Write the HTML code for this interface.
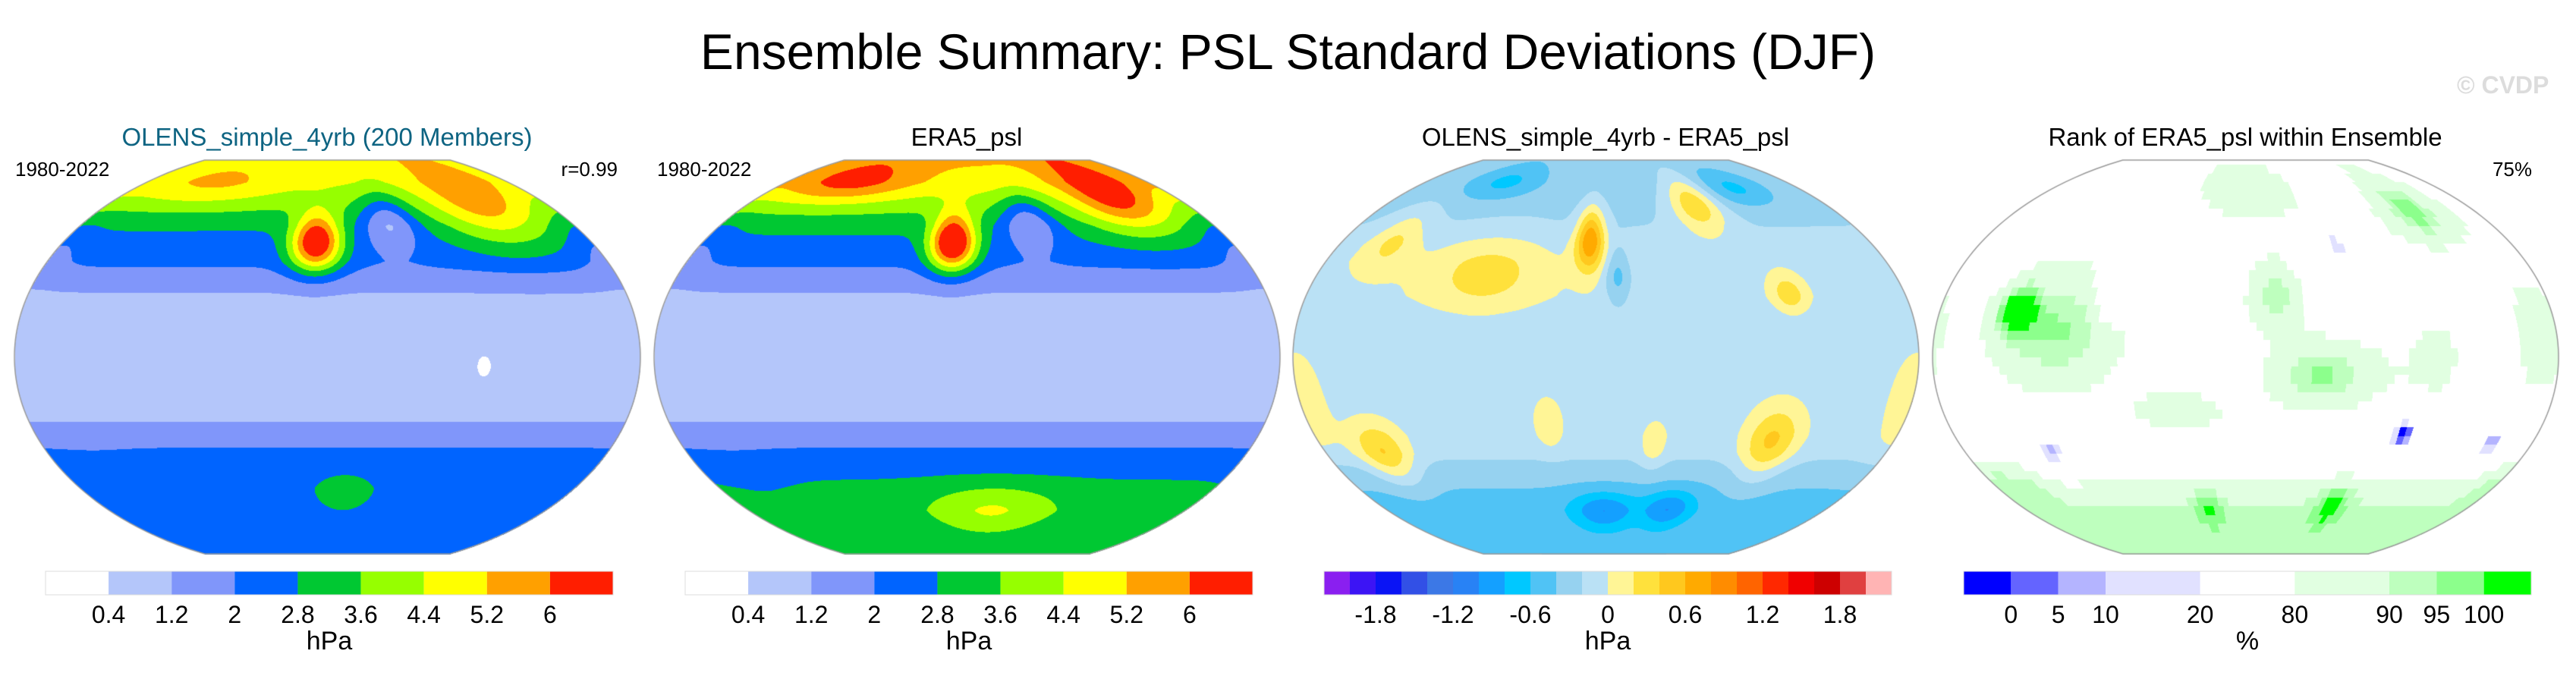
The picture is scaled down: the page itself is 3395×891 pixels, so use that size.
<!DOCTYPE html>
<html><head><meta charset="utf-8">
<style>
body{margin:0;background:#fff;width:3395px;height:891px;overflow:hidden;position:relative;font-family:"Liberation Sans",sans-serif}
.t{position:absolute;white-space:nowrap;color:#000}
canvas{position:absolute}
</style></head><body>
<div class="t" style="left:0;width:3395px;text-align:center;top:30px;font-size:66px">Ensemble Summary: PSL Standard Deviations (DJF)</div>
<div class="t" style="left:3238px;top:94px;font-size:32px;font-weight:bold;color:#dcdcdc">© CVDP</div>
<div id="root"></div>
<script>
// ---- data arrays ----
const sdLevels=["0.4","1.2","2","2.8","3.6","4.4","5.2","6"];
const sdBounds=[0.4,1.2,2,2.8,3.6,4.4,5.2,6];
const sdColors=["#ffffff","#b4c6fa","#8096fa","#0064ff","#00c832","#96ff00","#ffff00","#ffa000","#ff1e00"];
const diffBounds=[-2,-1.8,-1.6,-1.4,-1.2,-1,-0.8,-0.6,-0.4,-0.2,0,0.2,0.4,0.6,0.8,1,1.2,1.4,1.6,1.8,2];
const diffLabels=["","-1.8","","","-1.2","","","-0.6","","","0","","","0.6","","","1.2","","","1.8",""];
const diffColors=["#8a1ff0","#3c14f5","#0a14f5","#3250e6","#3c78e6","#2882f5","#14a0ff","#00c8ff","#50c3f5","#96d2f0","#bae1f5","#fff596","#ffe13c","#ffc81e","#ffaa00","#ff8c00","#ff6400","#ff2800","#f00000","#cd0000","#e04040","#ffb4b4"];
const rankBounds=[0,5,10,20,80,90,95,100];
const rankLabels=["0","5","10","20","80","90","95","100"];
const rankColors=["#0000ff","#6464ff","#b4b4ff","#e1e1ff","#ffffff","#e1ffe1","#beffbe","#8cff8c","#00ff00"];
const rankUnits=[1,1,1,2,2,2,1,1,1];
// zonal base profiles (lat, value)
const baseLat=[-90,-80,-70,-60,-52,-44,-36,-28,0,20,28,36,44,52,60,70,80,90];
const base1=[2.2,2.3,2.5,2.6,2.5,2.2,1.6,1.1,0.8,0.9,1.1,1.6,2.2,2.5,2.9,3.7,4.5,4.8];
const base2=[2.9,3.0,3.2,3.0,2.6,2.2,1.6,1.1,0.8,0.9,1.1,1.6,2.2,2.6,3.0,3.9,4.9,5.3];
const base3=[-0.4,-0.5,-0.5,-0.4,-0.3,-0.15,-0.1,-0.1,-0.1,-0.1,-0.05,-0.05,-0.05,-0.1,-0.2,-0.25,-0.3,-0.3];
const base4=[91,91,90,86,76,72,70,72,72,72,72,72,74,76,78,78,78,78];
// blobs: [lon, lat, sLon, sLat, amp]
const blobs1=[[202,52,12,9,4.6],[335,68,28,14,2.0],[100,78,45,7,0.9],[255,62,14,9,-1.8],[300,-5,5,6,-0.6],[222,-62,14,6,0.7],[60,-55,20,8,-0.3],[30,50,12,10,-0.6]];
const blobs2=[[200,52,11,9,4.9],[335,72,25,12,2.4],[95,80,40,7,1.5],[255,62,14,9,-1.8],[230,-70,35,8,1.3],[60,-55,20,8,-0.3],[30,50,12,10,-0.6]];
const blobs3=[[199,54,7,10,0.9],[282,70,14,9,0.6],[217,37,6,9,-0.4],[320,29,7,6,0.4],[135,38,25,12,0.35],[65,54,12,10,0.35],[67,-44,12,10,0.55],[313,-39,12,12,0.55],[208,-70,18,6,-0.5],[260,-69,14,6,-0.5],[110,80,25,6,-0.35],[330,77,20,6,-0.35],[175,-30,6,8,0.3],[240,-40,6,8,0.25],[30,-20,10,15,0.3]];
const blobs4=[[100,12,28,20,24],[75,22,8,8,28],[227,28,12,11,22],[255,-8,24,12,24],[340,67,14,10,20],[278,-68,10,7,14],[180,-70,9,6,12],[307,-35,7,7,-75],[4,-39,6,6,-70],[85,-43,8,7,-65],[271,51,6,7,-65],[132,34,6,9,-60],[150,65,30,10,-8],[170,-25,20,7,16],[40,-55,18,8,12],[20,10,12,22,14],[320,0,15,20,10],[200,75,30,8,10]];
const LON0=210, W=825, H=519, CY=470;
const panelCX=[431,1274,2116,2959];

function interp(xs,ys,x){if(x<=xs[0])return ys[0];for(let i=1;i<xs.length;i++){if(x<=xs[i]){const t=(x-xs[i-1])/(xs[i]-xs[i-1]);return ys[i-1]+t*(ys[i]-ys[i-1]);}}return ys[ys.length-1];}
function Xr(lat){const v=lat/90;return Math.sqrt(Math.max(0,1-0.846*v*v));}
function project(lon,lat,cx){let d=lon-LON0;while(d>180)d-=360;while(d<-180)d+=360;return [cx+W/2*Xr(lat)*d/180, CY-H/2*lat/90];}
function field(lon,lat,base,blobs){let v=interp(baseLat,base,lat);for(const b of blobs){let d=lon-b[0];while(d>180)d-=360;while(d<-180)d+=360;v+=b[4]*Math.exp(-(d*d)/(2*b[2]*b[2])-((lat-b[1])**2)/(2*b[3]*b[3]));}return v;}
function hex(c){return [parseInt(c.substr(1,2),16),parseInt(c.substr(3,2),16),parseInt(c.substr(5,2),16)];}
function colorFor(v,bounds,cols){let i=0;while(i<bounds.length&&v>=bounds[i])i++;return cols[i];}

const root=document.getElementById('root');
function addText(txt,name,left,top,size,align,color,width){
  const d=document.createElement('div');d.className='t';d.textContent=txt;
  
  
  d.style.fontSize=size+'px';d.style.top=top+'px';
  if(align==='center'){d.style.left=(left-(width||400)/2)+'px';d.style.width=(width||400)+'px';d.style.textAlign='center';}
  else if(align==='right'){d.style.left=(left-300)+'px';d.style.width='300px';d.style.textAlign='right';}
  else d.style.left=left+'px';
  if(color)d.style.color=color;root.appendChild(d);return d;}

function drawMap(p,base,blobs,bounds,cols,name,q){
  const cx=panelCX[p];const left=cx-W/2;
  const cv=document.createElement('canvas');cv.width=W+4;cv.height=H+4;
  cv.style.left=(left-2)+'px';cv.style.top=(CY-H/2-2)+'px';
  
  
  root.appendChild(cv);
  const ctx=cv.getContext('2d');const img=ctx.createImageData(W+4,H+4);
  const cache={};
  for(let py=0;py<H+4;py++){
    const v=(CY-(py+CY-H/2-2))/(H/2);if(Math.abs(v)>1)continue;
    const lat=v*90;const xr=Xr(lat);
    for(let px=0;px<W+4;px++){
      const u=(px+left-2-cx)/(W/2);const dl=u/xr*180;if(Math.abs(dl)>180)continue;
      let lon=LON0+dl,la=lat;
      if(q){lon=Math.floor(lon/q)*q+q/2;la=Math.floor(la/q)*q+q/2;}
      const val=field(lon,la,base,blobs);
      const c=colorFor(val,bounds,cols);const rgb=cache[c]||(cache[c]=hex(c));
      const k=(py*(W+4)+px)*4;img.data[k]=rgb[0];img.data[k+1]=rgb[1];img.data[k+2]=rgb[2];img.data[k+3]=255;}
  }
  ctx.putImageData(img,0,0);
  ctx.strokeStyle='#999';ctx.lineWidth=1.5;ctx.beginPath();
  const pts=[];for(let la=-90;la<=90;la+=2)pts.push(project(LON0+179.99,la,cx));
  for(let la=90;la>=-90;la-=2)pts.push(project(LON0-179.99,la,cx));
  pts.forEach((q,i)=>{const x=q[0]-left+2,y=q[1]-(CY-H/2)+2;i?ctx.lineTo(x,y):ctx.moveTo(x,y);});
  ctx.closePath();ctx.stroke();
}

function colorbar(p,cols,units,labelsAt,labels,unit,name){
  const cx=panelCX[p]+3;const x0=cx-374,wid=748;const tot=units.reduce((a,b)=>a+b,0);
  let acc=0;const edges=[x0];
  const svgNS="http://www.w3.org/2000/svg";
  const svg=document.createElementNS(svgNS,'svg');
  svg.setAttribute('width',wid+2);svg.setAttribute('height',34);
  svg.style.position='absolute';svg.style.left=(x0-1)+'px';svg.style.top='752px';
  
  
  cols.forEach((c,i)=>{const a=acc/tot*wid;acc+=units[i];const b=acc/tot*wid;edges.push(x0+b);
    const r=document.createElementNS(svgNS,'rect');
    r.setAttribute('x',1+a);r.setAttribute('y',1);r.setAttribute('width',b-a);r.setAttribute('height',31);r.setAttribute('fill',c);
    
    
    svg.appendChild(r);});
  const fr=document.createElementNS(svgNS,'rect');fr.setAttribute('x',1);fr.setAttribute('y',1);fr.setAttribute('width',wid);fr.setAttribute('height',31);fr.setAttribute('fill','none');fr.setAttribute('stroke','#ddd');
  svg.appendChild(fr);root.appendChild(svg);
  labels.forEach((l,i)=>{if(!l)return;addText(l,'colorbar-tick-label',edges[labelsAt[i]],792,32,'center',null,120);});
  addText(unit,'colorbar-unit-label',cx,826,34,'center',null,200);
}

drawMap(0,base1,blobs1,sdBounds,sdColors,'ensemble-map',0);
drawMap(1,base2,blobs2,sdBounds,sdColors,'era5-map',0);
drawMap(2,base3,blobs3,diffBounds,diffColors,'difference-map',0);
drawMap(3,base4,blobs4,rankBounds,rankColors,'rank-map',4);

addText('OLENS_simple_4yrb (200 Members)','ensemble-panel-title',panelCX[0],162,33,'center','#0e6482',800);
addText('ERA5_psl','era5-panel-title',panelCX[1],162,33,'center',null,800);
addText('OLENS_simple_4yrb - ERA5_psl','difference-panel-title',panelCX[2],162,33,'center',null,800);
addText('Rank of ERA5_psl within Ensemble','rank-panel-title',panelCX[3],162,33,'center',null,800);
addText('1980-2022','ensemble-years',20,208,26);
addText('r=0.99','pattern-correlation',panelCX[0]+383,208,26,'right');
addText('1980-2022','era5-years',866,208,26);
addText('75%','rank-percent',panelCX[3]+378,208,26,'right');

const sdAt=[1,2,3,4,5,6,7,8];
colorbar(0,sdColors,sdColors.map(()=>1),sdAt,sdLevels,'hPa','ensemble-colorbar');
colorbar(1,sdColors,sdColors.map(()=>1),sdAt,sdLevels,'hPa','era5-colorbar');
colorbar(2,diffColors,diffColors.map(()=>1),diffBounds.map((_,i)=>i+1),diffLabels,'hPa','difference-colorbar');
colorbar(3,rankColors,rankUnits,rankBounds.map((_,i)=>i+1),rankLabels,'%','rank-colorbar');
</script>
</body></html>
